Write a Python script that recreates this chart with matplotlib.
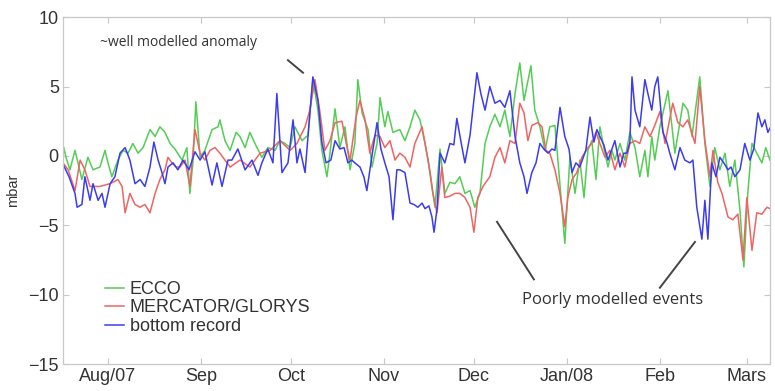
import numpy as np
import matplotlib
matplotlib.use("Agg")
import matplotlib.pyplot as plt
import matplotlib.dates as mdates
import datetime as dt

# ---------------- data (days since 2007-07-17, mbar) ----------------
start_date = dt.datetime(2007, 7, 17)

ecco_days = [0, 1, 2.3, 4, 5, 6.3, 8.3, 10, 12.3, 14, 15, 16.3, 18.3, 20, 21.7, 23.3, 25, 26.7, 29, 30.7,
             32.3, 34, 35.7, 37.3, 39.7, 41.3, 42.3, 43.3, 44.3, 45.7, 47.3, 49.7, 51.7, 52.3, 54, 55.7,
             57.7, 59, 60.7, 62.3, 64, 66.3, 68.3, 70.7, 72.3, 74, 75.7, 77.3, 79.7, 81.7, 83.3, 85, 86.3,
             88, 89, 90.7, 92.3, 94, 95.7, 97.3, 98.3, 99.7, 101.7, 103, 104.7, 105.7, 107.3, 108.3, 110,
             112.3, 114, 115.7, 117.3, 119, 120.7, 122.3, 124, 125.7, 127.3, 129, 130.7, 132.3, 134, 135.7,
             137.3, 139, 140.7, 142.3, 144, 145.7, 147.3, 149, 150.7, 152.3, 153.7, 156, 157.3, 159, 160.7,
             162.3, 164, 165, 166.3, 167.3, 169, 170.7, 172.3, 173.7, 175, 176.3, 177.7, 179, 180.3, 181.7,
             183, 184, 185.7, 187.3, 189, 190.7, 192.3, 194, 195, 196.3, 197.3, 199, 201.7, 204, 206.7,
             208.3, 209.7, 212.3, 214, 215.7, 217.3, 219, 220.7, 222.3, 224, 225.7, 227, 228.3, 229.7,
             231.3, 233, 234.3, 235.7]
ecco_vals = [0.8, -0.1, -1, 0.4, -0.5, -1.7, -0.1, -1, -0.8, 0.4, -0.5, -1.5, -0.3, 0.4, 0.2, 0.9, 0.2, 0.6,
             1.9, 1.4, 2.1, 1.7, 0.9, 0.5, -0.3, 0.6, -2.7, -0.5, 3.9, -0.1, 0.4, 1.9, 2.1, 2.6, 1.1, 0.4,
             1.7, 1.4, 0.6, 1.7, 0.9, -0.1, 0.6, 0.4, 1.1, 0.9, 0.6, 2.1, 1.1, 1.5, 5.5, 3.3, 0.4, -1.5,
             0.2, 3.4, 0.6, 2.1, -1, 0.9, 5.5, 3.1, 1.9, -0.8, 0.9, 4.2, 2.1, 3.2, 1.7, 1.9, 1.1, 2.1, 3.3,
             2.6, 0.9, -1, -3.7, 0.5, -2.7, -1.9, -2.0, -1.5, -2.7, -2.5, -3.7, -2.7, 0.9, 2.1, 3.0, 2.1,
             3.3, 1.4, 4.5, 6.7, 4, 6.5, 3.3, 2.1, 0.4, 2.1, 2.2, -0.3, -3.7, -6.3, -0.1, -2.7, -0.3, -3,
             0.4, 1.1, -1.7, 2.1, 0.6, -0.8, 0.4, -0.3, 0.9, -0.3, 1.7, 0.6, -1.5, 0.4, -1.5, 1.4, -0.3,
             2.1, 4.7, 0.2, 3.8, 3.3, 1.4, 5.7, 0.9, -2.2, 0.6, -1, 0.2, -2.2, -0.3, -3.9, -8.0, -2.7, 0.9,
             0.2, -0.5, 0.6, -0.3]

mercator_days = [0, 1.7, 4, 5.7, 7.3, 9, 12.3, 15.7, 18.3, 19.7, 20.7, 22.3, 24, 25.7, 27.3, 29, 30.7, 32.3,
                 34, 35, 36.3, 37.7, 39, 40.7, 42.3, 44, 45.7, 47.3, 49, 50.7, 52.3, 55.7, 59, 62.3, 65.7,
                 69, 72.3, 75.7, 78, 80.7, 82.3, 84, 85.7, 87.3, 89, 90.7, 93, 94.7, 95.7, 97.7, 99, 100.7,
                 102.3, 104, 105.7, 107.3, 109, 110.7, 112.3, 114, 115.7, 117.3, 119.7, 121.7, 123.3, 124.7,
                 126.3, 127.3, 129, 130.7, 132.3, 134, 135.7, 137, 138.3, 140, 142.3, 144, 145.7, 147.3, 149,
                 150.7, 152.3, 153.7, 155, 156.3, 158.3, 159.7, 161, 162.3, 164, 165.7, 167.3, 168.3, 169.7,
                 171.3, 173, 175, 176.3, 177.7, 179, 180.7, 182.3, 184, 185.7, 187.3, 189, 190.7, 192.3, 194,
                 195.7, 197.3, 199, 200.7, 203.3, 205, 206.7, 208.3, 210.7, 212.3, 214, 215.7, 216.7, 218.3,
                 219.7, 221.7, 223.3, 225, 226.7, 228, 229.7, 231.3, 233, 234.7, 235.7]
mercator_vals = [-0.5, -1, -2.5, -0.3, -1, -2.2, -2.2, -2, -1.7, -2.2, -4.1, -2.7, -3.5, -3.7, -3.5, -4.1,
                 -2.7, -1.7, -1, -0.1, -0.5, -0.8, -0.8, -0.3, -2.2, 1.9, 0.2, -0.3, 0.4, 0.6, 0.2, -0.8,
                 -0.3, -0.8, 0.2, 0.4, 1.1, 0.4, 0.9, 2.1, 3.3, 5.5, 3.1, 0.4, 1.1, 2.4, 2.5, 0.6, -0.3, 2.8,
                 4.0, 2.6, 0.2, 1.5, 1.4, 0.6, 1.1, -0.3, 0.2, -0.1, -0.8, 0.9, 2.1, -0.3, -2.7, -4.1, -0.8,
                 -3, -2.9, -2.7, -2.7, -3, -3.7, -5.5, -3, -2.2, -1.5, -0.1, 0.6, -0.5, 1.1, 0.9, 3.8, 3.1,
                 1.1, 2.2, 2.4, 2.1, 0.4, 0.2, -1, -2.7, -5.1, -3, -1.7, -1.2, -0.1, 0.6, 0.9, 1.7, 0.9, -0.1,
                 0.4, -1, 0.2, -0.8, 0.9, 1.1, 0.9, 2.1, 1.4, 2.2, 3.2, 0.9, 3.8, 2.4, 2.1, 2.6, 0.9, 5.0, 1.1,
                 -1.5, 0.4, -1.9, -2.7, -4.4, -4.6, -4.2, -7.5, -3, -6.8, -4.1, -4.2, -3.7, -3.8]

bottom_days = [0, 2, 4, 4.7, 6.3, 7.3, 9, 10, 11.7, 13, 14, 15.7, 17.3, 19, 20.7, 22.3, 24, 25.7, 27.3, 29,
               30.3, 31.7, 33, 34, 35, 36.7, 38.3, 40, 42, 44, 45.7, 47.3, 49.7, 51.3, 53, 55, 56.3, 58.3,
               60.7, 63, 65, 66.3, 68.3, 70, 71.3, 73, 75, 76.7, 78, 79, 80.7, 83.3, 85, 86.3, 87.7, 89.3,
               90.7, 92.3, 93.7, 95, 96.3, 97.3, 99, 100.3, 101.3, 103, 104.7, 106, 107.3, 108.7, 110, 111.3,
               112.3, 114, 115.7, 117, 118.3, 119.7, 120.7, 122, 123, 123.7, 124.7, 125.7, 127.3, 129, 130.3,
               131.3, 132.7, 134, 135.7, 138, 139.3, 140.7, 142.3, 144, 145.7, 147.3, 149, 150.7, 152.3,
               153.7, 154.7, 156.3, 157.7, 159, 160.3, 161.7, 163, 164, 165.7, 167.3, 168.7, 169.7, 171,
               172.3, 174.3, 175.7, 177, 178, 179, 180.3, 181.7, 183, 184, 185.7, 187, 188, 189, 189.7, 190.7,
               192.3, 194, 195, 196.3, 197.3, 198.3, 200, 201.3, 202.3, 204, 205.7, 207.3, 209, 210, 211.3,
               213, 214, 215, 216.3, 217.7, 219, 220.3, 221.7, 222.7, 224, 225.7, 227.3, 229, 230.3, 231.7,
               233, 234, 235, 235.7]
bottom_vals = [-0.6, -1.5, -2.7, -3.7, -3.5, -1.5, -3.2, -2, -3.2, -2.7, -3.7, -2, -1.5, 0.2, 0.6, -0.3, -2,
               -1.7, -2.2, -0.8, 1.0, -0.3, -1.2, -2, -0.8, -0.5, -1, -0.3, -1, 0.3, -0.3, 0.3, -2.1, -0.5,
               -2.2, -0.3, -0.3, 0.5, -1, -0.3, -1.4, -0.5, 0.5, -0.5, 4.5, -1.2, -0.5, 2.6, -0.5, 0.5, -1.2,
               5.7, 4, 1, -0.5, -0.3, 1.1, 0.5, 0.6, -0.5, -0.3, -0.5, -0.8, -1.5, -2.5, 0, 2.4, 0.5, -0.5,
               -1.5, -4.6, -1, -1, -1.2, -3.4, -3.5, -3.7, -3.4, -3.8, -3.6, -4.4, -5.5, -3.8, 0.2, -0.5, 0.9,
               0.8, 2.7, 1.0, -0.5, 1.5, 6.0, 4.5, 3.3, 5.0, 3.8, 4.0, 3.5, 4.7, 1.4, -0.5, -1.5, -2.7, -1.2,
               -0.5, 0.9, 0.5, 0.2, 0.5, 0.4, 3.5, 1.4, 0.5, -1.2, -0.5, -0.8, 0.4, 2.8, 1.0, 1.9, 1.4, 0.8,
               -0.3, 0.5, 1.1, -0.8, 0.2, 0.2, 1.0, 5.7, 3.3, 2.1, 5.5, 4.5, 3.3, 5, 5.7, 1.7, 1.0, 0.2, -1,
               0.6, -0.3, -0.5, -0.3, -3.7, -6, -3.2, -6, -0.5, -1.5, -0.1, -0.5, -1, -0.8, -1.5, -1, 0.9,
               -0.3, 0.5, 3.1, 2.1, 2.6, 1.7, 2.0]

series_labels = ["ECCO", "MERCATOR/GLORYS", "bottom record"]
series_colors = ["#55cc55", "#ee6464", "#3c3cee"]

month_ticks = ["2007-08-01", "2007-09-01", "2007-10-01", "2007-11-01", "2007-12-01",
               "2008-01-01", "2008-02-01", "2008-03-01"]
month_labels = ["Aug/07", "Sep", "Oct", "Nov", "Dec", "Jan/08", "Feb", "Mars"]
y_ticks = [-15, -10, -5, 0, 5, 10]

# ---------------- plot ----------------
def to_dates(days):
    return [start_date + dt.timedelta(days=float(d)) for d in days]

plt.rcParams['font.family'] = ['Liberation Sans', 'DejaVu Sans']

fig = plt.figure(figsize=(7.75, 3.91), dpi=100)
ax = fig.add_axes([0.0813, 0.069, 0.9122, 0.887])

ax.plot(to_dates(ecco_days), ecco_vals, color=series_colors[0], lw=1.1, label=series_labels[0])
ax.plot(to_dates(mercator_days), mercator_vals, color=series_colors[1], lw=1.1, label=series_labels[1])
ax.plot(to_dates(bottom_days), bottom_vals, color=series_colors[2], lw=1.1, label=series_labels[2])

ax.set_xlim(start_date, start_date + dt.timedelta(days=235.7))
ax.set_ylim(-15, 10)
ax.set_yticks(y_ticks)
ax.set_yticklabels([str(v).replace('-', '\u2212') for v in y_ticks])
ax.set_xticks([dt.datetime.strptime(s, "%Y-%m-%d") for s in month_ticks])
ax.set_xticklabels(month_labels)

for s in ax.spines.values():
    s.set_color("#c8c8c8")
    s.set_linewidth(0.9)
ax.tick_params(direction='in', length=4, width=0.8, color="#c8c8c8",
               top=True, right=True, labelsize=13, labelcolor="#333333", pad=3)
ax.set_ylabel("mbar", fontsize=10.5, color="#333333", labelpad=6)

leg = ax.legend(loc='lower left', bbox_to_anchor=(0.046, 0.058), frameon=False, fontsize=13,
                handlelength=1.1, handletextpad=0.3, labelspacing=0.08, borderpad=0)
for t in leg.get_texts():
    t.set_color("#333333")

ann_font = ['Open Sans', 'DejaVu Sans']
ax.text(start_date + dt.timedelta(days=12.3), 8.2, "~well modelled anomaly", fontsize=10,
        family=ann_font, color="#333333", va='center', ha='left')
ax.plot(to_dates([75, 80]), [6.9, 6.0], color="#444444", lw=1.4)

ax.text(start_date + dt.timedelta(days=153), -10.4, "Poorly modelled events", fontsize=12,
        family=ann_font, color="#333333", va='center', ha='left')
ax.plot(to_dates([144.7, 157]), [-4.75, -8.9], color="#444444", lw=1.4)
ax.plot(to_dates([210.7, 199]), [-6.2, -9.5], color="#444444", lw=1.4)

fig.savefig("out.png", dpi=100)
